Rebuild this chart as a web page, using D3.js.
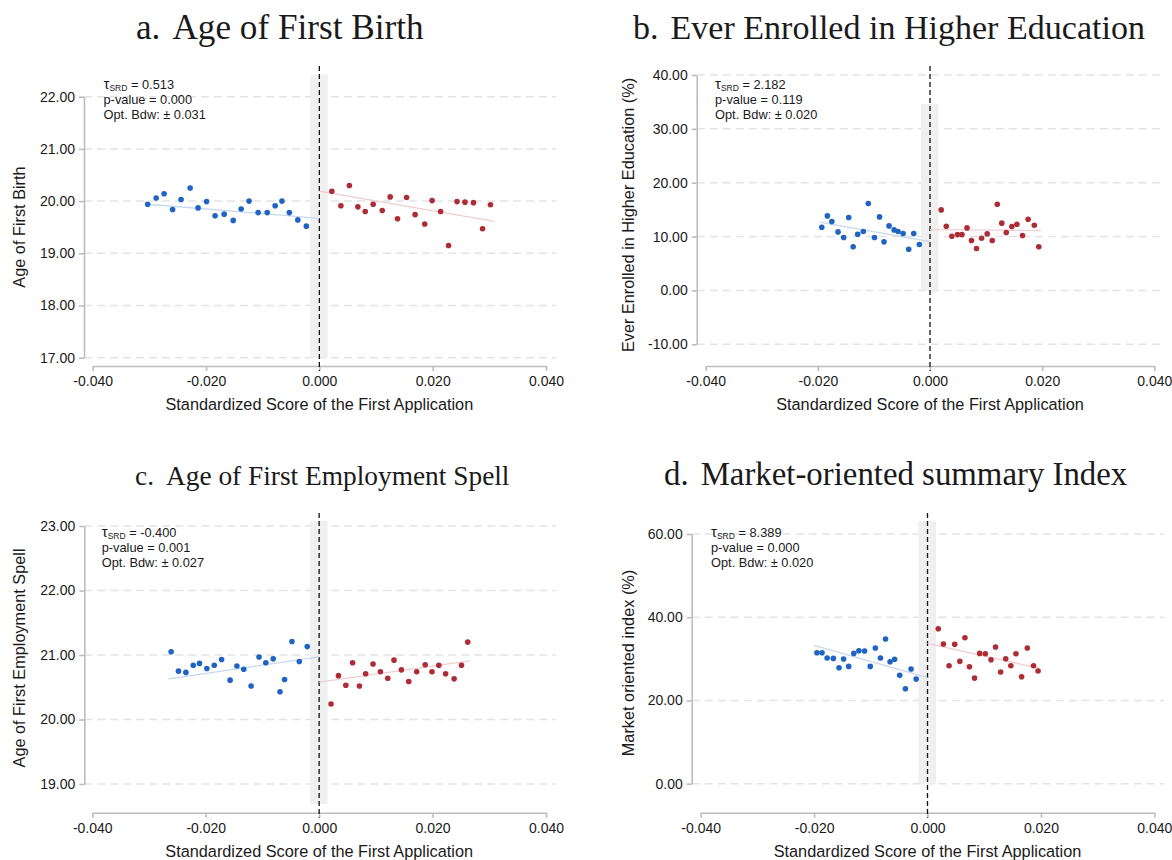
<!DOCTYPE html>
<html>
<head>
<meta charset="utf-8">
<script src="https://cdn.jsdelivr.net/npm/d3@7"></script>
<style>
  html, body { margin: 0; padding: 0; background: #fff; }
  svg { display: block; }
  .tick text { font-family: "Liberation Sans", Arial, sans-serif; font-size: 14px; fill: #1a1a1a; }
  .axis path, .axis line { stroke: #bdbdbd; stroke-width: 1.6; }
  .ttl { font-family: "Liberation Serif", "Times New Roman", serif; fill: #1a1a1a; }
  .lab { font-family: "Liberation Sans", Arial, sans-serif; font-size: 16.3px; fill: #1a1a1a; }
  .ann { font-family: "Liberation Sans", Arial, sans-serif; font-size: 12.8px; fill: #1a1a1a; }
</style>
</head>
<body>
<svg id="chart" width="1172" height="860"></svg>
<script>
// Shared x axis ticks (standardized score)
const xTicks = [-0.04, -0.02, 0, 0.02, 0.04];
const bandX = [-0.0016, 0.0015];

// a. Age of first birth
const aLeftX  = [-0.0303,-0.0288,-0.0274,-0.0259,-0.0244,-0.0228,-0.0214,-0.0199,-0.0184,-0.0168,-0.0152,-0.0138,-0.0124,-0.0108,-0.0092,-0.0078,-0.0066,-0.0053,-0.0038,-0.0023];
const aLeftY  = [19.94,20.06,20.14,19.84,20.03,20.25,19.87,19.99,19.72,19.75,19.63,19.85,20.00,19.78,19.78,19.91,20.00,19.78,19.64,19.52];
const aRightX = [0.0022,0.0038,0.0053,0.0068,0.0081,0.0095,0.0111,0.0125,0.0138,0.0154,0.0169,0.0186,0.0199,0.0214,0.0228,0.0243,0.0257,0.0272,0.0288,0.0302];
const aRightY = [20.19,19.91,20.30,19.89,19.80,19.94,19.82,20.08,19.66,20.07,19.74,19.56,20.01,19.80,19.15,19.99,19.98,19.97,19.47,19.93];
const aFitL = [[-0.0303,19.94],[0,19.67]];
const aFitR = [[0,20.19],[0.0309,19.61]];
const aBand = [17.0, 22.42];
const aYTicks = [17,18,19,20,21,22];
const aStats = ["0.513", "0.000", "0.031"];

// b. Ever enrolled in higher education (%)
const bLeftX  = [-0.0193,-0.0183,-0.0175,-0.0164,-0.0154,-0.0145,-0.0137,-0.0129,-0.0119,-0.0110,-0.0099,-0.0090,-0.0082,-0.0073,-0.0064,-0.0057,-0.0048,-0.0038,-0.0029,-0.0019];
const bLeftY  = [11.74,13.84,12.78,10.87,9.82,13.53,8.09,10.44,10.93,16.12,9.82,13.65,9.02,11.98,11.24,10.93,10.56,7.66,10.56,8.52];
const bRightX = [0.0020,0.0029,0.0039,0.0049,0.0057,0.0066,0.0074,0.0083,0.0092,0.0102,0.0111,0.0120,0.0128,0.0136,0.0146,0.0155,0.0165,0.0175,0.0186,0.0194];
const bRightY = [14.95,11.93,10.07,10.37,10.37,11.61,9.26,7.78,9.70,10.50,9.26,16.01,12.49,10.75,11.86,12.30,10.19,13.22,12.11,8.09];
const bFitL = [[-0.0197,12.67],[0,9.07]];
const bFitR = [[0,11.30],[0.0199,11.11]];
const bBand = [0, 34.6];
const bYTicks = [-10,0,10,20,30,40];
const bStats = ["2.182", "0.119", "0.020"];

// c. Age of first employment spell
const cLeftX  = [-0.0261,-0.0248,-0.0235,-0.0222,-0.0211,-0.0198,-0.0185,-0.0172,-0.0157,-0.0145,-0.0133,-0.0120,-0.0106,-0.0094,-0.0081,-0.0069,-0.0061,-0.0048,-0.0035,-0.0021];
const cLeftY  = [21.05,20.75,20.73,20.84,20.87,20.79,20.84,20.93,20.61,20.83,20.78,20.52,20.97,20.88,20.94,20.43,20.62,21.21,20.90,21.13];
const cRightX = [0.0021,0.0034,0.0047,0.0059,0.0071,0.0082,0.0095,0.0108,0.0121,0.0132,0.0145,0.0158,0.0172,0.0187,0.0199,0.0211,0.0223,0.0238,0.0251,0.0262];
const cRightY = [20.24,20.68,20.53,20.88,20.52,20.71,20.86,20.74,20.64,20.92,20.77,20.59,20.74,20.85,20.74,20.84,20.71,20.63,20.84,21.20];
const cFitL = [[-0.0266,20.63],[0,20.97]];
const cFitR = [[0,20.58],[0.0266,20.91]];
const cBand = [18.69, 23.08];
const cYTicks = [19,20,21,22,23];
const cStats = ["-0.400", "0.001", "0.027"];

// d. Market-oriented summary index (%)
const dLeftX  = [-0.0195,-0.0186,-0.0177,-0.0166,-0.0156,-0.0148,-0.0139,-0.0130,-0.0121,-0.0111,-0.0101,-0.0092,-0.0083,-0.0074,-0.0066,-0.0058,-0.0049,-0.0039,-0.0029,-0.0020];
const dLeftY  = [31.47,31.47,30.19,30.11,27.86,29.95,28.19,31.31,31.96,31.88,28.19,32.60,30.19,34.76,29.30,29.88,26.03,22.81,27.55,25.14];
const dRightX = [0.0019,0.0028,0.0038,0.0048,0.0057,0.0066,0.0074,0.0083,0.0092,0.0102,0.0112,0.0120,0.0129,0.0138,0.0147,0.0156,0.0166,0.0176,0.0187,0.0195];
const dRightY = [37.24,33.56,28.34,33.49,29.40,35.07,28.10,25.38,31.31,31.23,29.78,32.84,26.83,30.03,28.34,31.23,25.70,32.60,28.34,27.07];
const dFitL = [[-0.0200,33.25],[0,25.46]];
const dFitR = [[0,33.73],[0.0198,27.72]];
const dBand = [0, 63.1];
const dYTicks = [0,20,40,60];
const dStats = ["8.389", "0.000", "0.020"];

const xLabel = "Standardized Score of the First Application";

// Panel layout
const panels = [
  { letter: "a.", title: "Age of First Birth", tx: 136, ty: 39, tw: 288,
    yLabel: "Age of First Birth", ylx: 25, yly: 227,
    xr: [92.7, 546], yr: [357.7, 96.7], ydom: [17, 22], axisX: 84, axisY: 366, zeroTop: 66,
    annX: 103.5, annY: 89,
    lx: aLeftX, ly: aLeftY, rx: aRightX, ry: aRightY, fitL: aFitL, fitR: aFitR, band: aBand, yt: aYTicks, stats: aStats },
  { letter: "b.", title: "Ever Enrolled in Higher Education", tx: 633, ty: 39, tw: 512,
    yLabel: "Ever Enrolled in Higher Education (%)", ylx: 634, yly: 215,
    xr: [705.7, 1154.3], yr: [344.3, 75], ydom: [-10, 40], axisX: 696.7, axisY: 366, zeroTop: 66,
    annX: 715, annY: 89,
    lx: bLeftX, ly: bLeftY, rx: bRightX, ry: bRightY, fitL: bFitL, fitR: bFitR, band: bBand, yt: bYTicks, stats: bStats },
  { letter: "c.", title: "Age of First Employment Spell", tx: 135, ty: 485, tw: 375,
    yLabel: "Age of First Employment Spell", ylx: 25, yly: 658,
    xr: [92.3, 546], yr: [784, 526], ydom: [19, 23], axisX: 84.3, axisY: 812.7, zeroTop: 513,
    annX: 101.7, annY: 536.5,
    lx: cLeftX, ly: cLeftY, rx: cRightX, ry: cRightY, fitL: cFitL, fitR: cFitR, band: cBand, yt: cYTicks, stats: cStats },
  { letter: "d.", title: "Market-oriented summary Index", tx: 664, ty: 485, tw: 464,
    yLabel: "Market oriented index (%)", ylx: 634, yly: 663,
    xr: [700.7, 1154.3], yr: [783.7, 534], ydom: [0, 60], axisX: 691.7, axisY: 812.7, zeroTop: 513,
    annX: 711, annY: 536.5,
    lx: dLeftX, ly: dLeftY, rx: dRightX, ry: dRightY, fitL: dFitL, fitR: dFitR, band: dBand, yt: dYTicks, stats: dStats }
];

const svg = d3.select("#chart");
const BLUE = "#1f64c3", RED = "#ae2c36";

panels.forEach(p => {
  const x = d3.scaleLinear().domain([-0.04, 0.04]).range(p.xr);
  const y = d3.scaleLinear().domain(p.ydom).range(p.yr);
  const g = svg.append("g");

  // horizontal dashed grid
  g.selectAll(".grid").data(p.yt).join("line")
    .attr("x1", p.axisX).attr("x2", x(0.04) + 10)
    .attr("y1", d => y(d)).attr("y2", d => y(d))
    .attr("stroke", "#e3e3e3").attr("stroke-width", 1.5).attr("stroke-dasharray", "8,5");

  // shaded band around the cutoff
  g.append("rect")
    .attr("x", x(bandX[0])).attr("width", x(bandX[1]) - x(bandX[0]))
    .attr("y", y(p.band[1])).attr("height", y(p.band[0]) - y(p.band[1]))
    .attr("fill", "#f0f0f0");

  // y axis
  g.append("g").attr("class", "axis")
    .attr("transform", `translate(${p.axisX},0)`)
    .call(d3.axisLeft(y).tickValues(p.yt).tickSize(5).tickSizeOuter(0).tickPadding(4)
      .tickFormat(d => d.toFixed(2)));

  // x axis
  g.append("g").attr("class", "axis")
    .attr("transform", `translate(0,${p.axisY})`)
    .call(d3.axisBottom(x).tickValues(xTicks).tickSize(5).tickSizeOuter(0).tickPadding(5)
      .tickFormat(d => d.toFixed(3)));

  // cutoff line
  g.append("line")
    .attr("x1", x(0)).attr("x2", x(0))
    .attr("y1", p.zeroTop).attr("y2", p.axisY + 5)
    .attr("stroke", "#111").attr("stroke-width", 1.3).attr("stroke-dasharray", "5,3");

  // linear fits on each side
  const line = d3.line().x(d => x(d[0])).y(d => y(d[1]));
  g.append("path").attr("d", line(p.fitL)).attr("fill", "none")
    .attr("stroke", "#c6d8ee").attr("stroke-width", 1.3);
  g.append("path").attr("d", line(p.fitR)).attr("fill", "none")
    .attr("stroke", "#f0cdd0").attr("stroke-width", 1.3);

  // binned means
  g.selectAll(".ptL").data(d3.zip(p.lx, p.ly)).join("circle")
    .attr("cx", d => x(d[0])).attr("cy", d => y(d[1])).attr("r", 2.8).attr("fill", BLUE);
  g.selectAll(".ptR").data(d3.zip(p.rx, p.ry)).join("circle")
    .attr("cx", d => x(d[0])).attr("cy", d => y(d[1])).attr("r", 2.8).attr("fill", RED);

  // estimate annotation
  const a1 = g.append("text").attr("class", "ann").attr("x", p.annX).attr("y", p.annY);
  a1.append("tspan").text("τ").style("font-size", "15px");
  a1.append("tspan").text("SRD").style("font-size", "8.5px").attr("dy", 2);
  a1.append("tspan").text(" = " + p.stats[0]).attr("dy", -2);
  g.append("text").attr("class", "ann").attr("x", p.annX).attr("y", p.annY + 15)
    .text("p-value = " + p.stats[1]);
  g.append("text").attr("class", "ann").attr("x", p.annX).attr("y", p.annY + 30)
    .text("Opt. Bdw: ± " + p.stats[2]);

  // axis titles
  g.append("text").attr("class", "lab").attr("text-anchor", "middle")
    .attr("x", x(0)).attr("y", p.axisY + 44).text(xLabel);
  g.append("text").attr("class", "lab").attr("text-anchor", "middle")
    .attr("transform", `translate(${p.ylx},${p.yly}) rotate(-90)`).text(p.yLabel);

  // panel title, sized to its target width via its bounding box
  let fs = 30;
  const t = g.append("text").attr("class", "ttl").attr("x", p.tx).attr("y", p.ty)
    .style("font-size", fs + "px");
  t.append("tspan").text(p.letter);
  t.append("tspan").attr("dx", 12).text(p.title);
  for (let i = 0; i < 3; i++) {
    const w = t.node().getBBox().width;
    fs = fs * p.tw / w;
    t.style("font-size", fs.toFixed(2) + "px");
  }
});
</script>
</body>
</html>
